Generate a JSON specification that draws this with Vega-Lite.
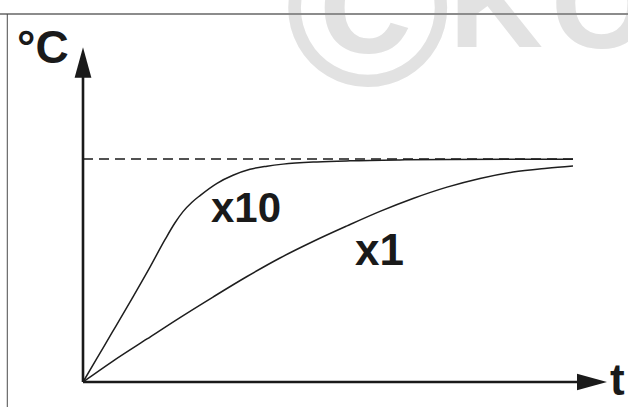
{
  "$schema": "https://vega.github.io/schema/vega-lite/v6.json",
  "width": 628,
  "height": 407,
  "padding": 0,
  "autosize": {"type": "none"},
  "background": "white",
  "config": {"view": {"stroke": null}, "axis": {"disable": true}},
  "datasets": {
    "curves": [
      {"series": "x10", "t": 0, "v": 0},
      {"series": "x10", "t": 0.286, "v": 0.107},
      {"series": "x10", "t": 0.592, "v": 0.221},
      {"series": "x10", "t": 1.0, "v": 0.374},
      {"series": "x10", "t": 1.367, "v": 0.515},
      {"series": "x10", "t": 1.673, "v": 0.638},
      {"series": "x10", "t": 1.878, "v": 0.714},
      {"series": "x10", "t": 2.041, "v": 0.764},
      {"series": "x10", "t": 2.224, "v": 0.806},
      {"series": "x10", "t": 2.388, "v": 0.836},
      {"series": "x10", "t": 2.735, "v": 0.891},
      {"series": "x10", "t": 3.061, "v": 0.927},
      {"series": "x10", "t": 3.408, "v": 0.954},
      {"series": "x10", "t": 3.755, "v": 0.968},
      {"series": "x10", "t": 4.082, "v": 0.977},
      {"series": "x10", "t": 4.776, "v": 0.987},
      {"series": "x10", "t": 5.449, "v": 0.992},
      {"series": "x10", "t": 6.469, "v": 0.996},
      {"series": "x10", "t": 7.49, "v": 0.998},
      {"series": "x10", "t": 10.0, "v": 0.999},
      {"series": "x1", "t": 0, "v": 0},
      {"series": "x1", "t": 0.612, "v": 0.094},
      {"series": "x1", "t": 1.306, "v": 0.193},
      {"series": "x1", "t": 1.98, "v": 0.289},
      {"series": "x1", "t": 2.653, "v": 0.381},
      {"series": "x1", "t": 3.347, "v": 0.473},
      {"series": "x1", "t": 4.02, "v": 0.556},
      {"series": "x1", "t": 4.694, "v": 0.63},
      {"series": "x1", "t": 5.388, "v": 0.7},
      {"series": "x1", "t": 6.061, "v": 0.765},
      {"series": "x1", "t": 6.735, "v": 0.823},
      {"series": "x1", "t": 7.429, "v": 0.874},
      {"series": "x1", "t": 8.102, "v": 0.913},
      {"series": "x1", "t": 8.776, "v": 0.942},
      {"series": "x1", "t": 9.469, "v": 0.959},
      {"series": "x1", "t": 10.0, "v": 0.969}
    ]
  },
  "layer": [
    {
      "data": {"values": [{}]},
      "mark": {"type": "text", "text": "©", "font": "Liberation Sans", "fontWeight": "bold", "fontSize": 225, "color": "#e2e2e2", "align": "left", "baseline": "alphabetic"},
      "encoding": {
        "x": {"datum": 4.118, "type": "quantitative", "scale": {"domain": [-1.6939, 11.1224], "nice": false, "zero": false}, "axis": null},
        "y": {"datum": 1.33, "type": "quantitative", "scale": {"domain": [-0.1121, 1.713], "nice": false, "zero": false}, "axis": null}
      }
    },
    {
      "data": {"values": [{}]},
      "mark": {"type": "text", "text": "K", "font": "Liberation Sans", "fontWeight": "bold", "fontSize": 130, "color": "#e2e2e2", "align": "left", "baseline": "alphabetic"},
      "encoding": {
        "x": {"datum": 7.469, "type": "quantitative", "scale": {"domain": [-1.6939, 11.1224], "nice": false, "zero": false}, "axis": null},
        "y": {"datum": 1.502, "type": "quantitative", "scale": {"domain": [-0.1121, 1.713], "nice": false, "zero": false}, "axis": null}
      }
    },
    {
      "data": {"values": [{}]},
      "mark": {"type": "text", "text": "O", "font": "Liberation Sans", "fontWeight": "bold", "fontSize": 130, "color": "#e2e2e2", "align": "left", "baseline": "alphabetic"},
      "encoding": {
        "x": {"datum": 9.551, "type": "quantitative", "scale": {"domain": [-1.6939, 11.1224], "nice": false, "zero": false}, "axis": null},
        "y": {"datum": 1.497, "type": "quantitative", "scale": {"domain": [-0.1121, 1.713], "nice": false, "zero": false}, "axis": null}
      }
    },
    {
      "data": {"values": [{}]},
      "mark": {"type": "rule", "color": "#8c8c8c", "strokeWidth": 2},
      "encoding": {
        "x": {"datum": -1.6939, "type": "quantitative", "scale": {"domain": [-1.6939, 11.1224], "nice": false, "zero": false}, "axis": null},
        "x2": {"datum": 11.1224},
        "y": {"datum": 1.6502, "type": "quantitative", "scale": {"domain": [-0.1121, 1.713], "nice": false, "zero": false}, "axis": null}
      }
    },
    {
      "data": {"values": [{}]},
      "mark": {"type": "rule", "color": "#4a4a4a", "strokeWidth": 1},
      "encoding": {
        "x": {"datum": -1.545, "type": "quantitative", "scale": {"domain": [-1.6939, 11.1224], "nice": false, "zero": false}, "axis": null},
        "y": {"datum": -0.1121, "type": "quantitative", "scale": {"domain": [-0.1121, 1.713], "nice": false, "zero": false}, "axis": null},
        "y2": {"datum": 1.6502}
      }
    },
    {
      "data": {"values": [{}]},
      "mark": {"type": "rule", "color": "#1a1a1a", "strokeWidth": 1.4, "strokeDash": [10, 6]},
      "encoding": {
        "x": {"datum": 0, "type": "quantitative", "scale": {"domain": [-1.6939, 11.1224], "nice": false, "zero": false}, "axis": null},
        "x2": {"datum": 10},
        "y": {"datum": 1, "type": "quantitative", "scale": {"domain": [-0.1121, 1.713], "nice": false, "zero": false}, "axis": null}
      }
    },
    {
      "data": {"name": "curves"},
      "mark": {"type": "line", "interpolate": "monotone", "color": "#1e1e1e", "strokeWidth": 1.5},
      "encoding": {
        "x": {"field": "t", "type": "quantitative", "scale": {"domain": [-1.6939, 11.1224], "nice": false, "zero": false}, "axis": null},
        "y": {"field": "v", "type": "quantitative", "scale": {"domain": [-0.1121, 1.713], "nice": false, "zero": false}, "axis": null},
        "detail": {"field": "series", "type": "nominal"}
      }
    },
    {
      "data": {"values": [{}]},
      "mark": {"type": "rule", "color": "#1a1a1a", "strokeWidth": 2.6},
      "encoding": {
        "x": {"datum": 0, "type": "quantitative", "scale": {"domain": [-1.6939, 11.1224], "nice": false, "zero": false}, "axis": null},
        "x2": {"datum": 10.3},
        "y": {"datum": 0, "type": "quantitative", "scale": {"domain": [-0.1121, 1.713], "nice": false, "zero": false}, "axis": null}
      }
    },
    {
      "data": {"values": [{}]},
      "mark": {"type": "rule", "color": "#1a1a1a", "strokeWidth": 2.6},
      "encoding": {
        "x": {"datum": 0, "type": "quantitative", "scale": {"domain": [-1.6939, 11.1224], "nice": false, "zero": false}, "axis": null},
        "y": {"datum": 0, "type": "quantitative", "scale": {"domain": [-0.1121, 1.713], "nice": false, "zero": false}, "axis": null},
        "y2": {"datum": 1.4}
      }
    },
    {
      "data": {"values": [{}]},
      "mark": {"type": "point", "shape": "M-1,-0.55L1,0L-1,0.55Z", "filled": true, "size": 900, "color": "#1a1a1a", "opacity": 1},
      "encoding": {
        "x": {"datum": 10.388, "type": "quantitative", "scale": {"domain": [-1.6939, 11.1224], "nice": false, "zero": false}, "axis": null},
        "y": {"datum": 0, "type": "quantitative", "scale": {"domain": [-0.1121, 1.713], "nice": false, "zero": false}, "axis": null}
      }
    },
    {
      "data": {"values": [{}]},
      "mark": {"type": "point", "shape": "M-0.55,1L0,-1L0.55,1Z", "filled": true, "size": 930, "color": "#1a1a1a", "opacity": 1},
      "encoding": {
        "x": {"datum": 0, "type": "quantitative", "scale": {"domain": [-1.6939, 11.1224], "nice": false, "zero": false}, "axis": null},
        "y": {"datum": 1.4327, "type": "quantitative", "scale": {"domain": [-0.1121, 1.713], "nice": false, "zero": false}, "axis": null}
      }
    },
    {
      "data": {"values": [{}]},
      "mark": {"type": "text", "text": "°C", "font": "Liberation Sans", "fontWeight": "bold", "fontSize": 46, "color": "#1a1a1a", "align": "left", "baseline": "alphabetic"},
      "encoding": {
        "x": {"datum": -1.347, "type": "quantitative", "scale": {"domain": [-1.6939, 11.1224], "nice": false, "zero": false}, "axis": null},
        "y": {"datum": 1.4305, "type": "quantitative", "scale": {"domain": [-0.1121, 1.713], "nice": false, "zero": false}, "axis": null}
      }
    },
    {
      "data": {"values": [{}]},
      "mark": {"type": "text", "text": "t", "font": "Liberation Sans", "fontWeight": "bold", "fontSize": 44, "color": "#1a1a1a", "align": "left", "baseline": "alphabetic"},
      "encoding": {
        "x": {"datum": 10.755, "type": "quantitative", "scale": {"domain": [-1.6939, 11.1224], "nice": false, "zero": false}, "axis": null},
        "y": {"datum": -0.0583, "type": "quantitative", "scale": {"domain": [-0.1121, 1.713], "nice": false, "zero": false}, "axis": null}
      }
    },
    {
      "data": {"values": [{}]},
      "mark": {"type": "text", "text": "x10", "font": "Liberation Sans", "fontWeight": "bold", "fontSize": 42, "color": "#1a1a1a", "align": "left", "baseline": "alphabetic"},
      "encoding": {
        "x": {"datum": 2.612, "type": "quantitative", "scale": {"domain": [-1.6939, 11.1224], "nice": false, "zero": false}, "axis": null},
        "y": {"datum": 0.7175, "type": "quantitative", "scale": {"domain": [-0.1121, 1.713], "nice": false, "zero": false}, "axis": null}
      }
    },
    {
      "data": {"values": [{}]},
      "mark": {"type": "text", "text": "x1", "font": "Liberation Sans", "fontWeight": "bold", "fontSize": 44, "color": "#1a1a1a", "align": "left", "baseline": "alphabetic"},
      "encoding": {
        "x": {"datum": 5.551, "type": "quantitative", "scale": {"domain": [-1.6939, 11.1224], "nice": false, "zero": false}, "axis": null},
        "y": {"datum": 0.5247, "type": "quantitative", "scale": {"domain": [-0.1121, 1.713], "nice": false, "zero": false}, "axis": null}
      }
    }
  ]
}
